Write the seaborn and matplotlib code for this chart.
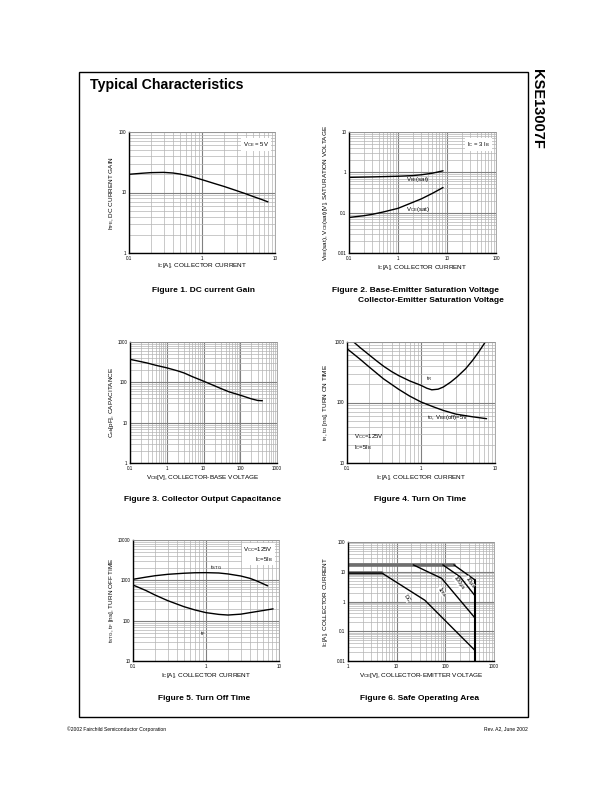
import matplotlib
matplotlib.use("Agg")
import matplotlib.pyplot as plt
import seaborn as sns
import numpy as np
from matplotlib.ticker import LogLocator, FixedLocator, FixedFormatter, NullFormatter

sns.set_style("white")
plt.rcParams['font.family'] = ['Liberation Sans', 'DejaVu Sans']
plt.rcParams['mathtext.fontset'] = 'custom'
plt.rcParams['mathtext.rm'] = 'Liberation Sans'
plt.rcParams['mathtext.it'] = 'Liberation Sans'
plt.rcParams['text.color'] = 'black'
plt.rcParams['xtick.color'] = 'black'
plt.rcParams['ytick.color'] = 'black'

# ---------------- data ----------------
# Fig 1: DC current gain
f1_ic = [0.1, 0.15, 0.2, 0.3, 0.4, 0.5, 0.7, 1.0, 1.5, 2.0, 3.0, 4.0, 5.0, 6.5, 8.0]
f1_hfe = [20.0, 20.8, 21.3, 21.5, 21.0, 20.2, 18.5, 16.3, 14.0, 12.6, 10.7, 9.5, 8.6, 7.7, 7.0]
# Fig 2: saturation voltages
f2_ic_be = [0.1, 0.3, 1.0, 2.0, 3.0, 5.0, 8.3]
f2_vbe = [0.75, 0.77, 0.80, 0.83, 0.87, 0.95, 1.09]
f2_ic_ce = [0.1, 0.2, 0.3, 0.5, 1.0, 2.0, 3.0, 5.0, 8.3]
f2_vce = [0.076, 0.084, 0.091, 0.104, 0.128, 0.18, 0.22, 0.30, 0.42]
# Fig 3: output capacitance
f3_vcb = [0.1, 0.2, 0.3, 0.5, 1.0, 2.0, 3.0, 5.0, 10.0, 20.0, 30.0, 50.0, 100.0, 200.0, 300.0, 400.0]
f3_cob = [372, 325, 300, 265, 229, 192, 170, 138, 107, 82, 70, 58, 48, 39, 35.5, 35]
# Fig 4: turn on time
f4_ic_tr = [0.123, 0.15, 0.2, 0.25, 0.31, 0.4, 0.5, 0.7, 1.0, 1.2, 1.4, 1.7, 2.0, 2.5, 3.06, 4.0, 5.0, 6.0, 7.4]
f4_tr = [1000, 810, 610, 490, 400, 325, 278, 228, 192, 172, 162, 166, 180, 216, 264, 360, 500, 680, 1000]
f4_ic_td = [0.1, 0.15, 0.2, 0.31, 0.5, 0.7, 1.0, 1.5, 2.0, 3.0, 5.0, 7.7]
f4_td = [776, 520, 385, 247, 165, 128, 102, 84, 74, 64, 58, 54]
# Fig 5: turn off time
f5_ic = [0.1, 0.15, 0.2, 0.3, 0.5, 0.7, 1.0, 1.5, 2.0, 3.0, 4.0, 5.0, 7.0]
f5_tstg = [1060, 1200, 1300, 1410, 1500, 1540, 1550, 1520, 1440, 1280, 1120, 960, 730]
f5_ic_tf = [0.1, 0.15, 0.2, 0.3, 0.5, 0.7, 1.0, 1.5, 2.0, 3.0, 4.0, 6.0, 8.3]
f5_tf = [766, 560, 433, 313, 222, 185, 158, 143, 138, 145, 158, 178, 196]
# Fig 6: safe operating area
f6_dc_v = [1, 5, 38, 414]
f6_dc_i = [9, 9, 1.1, 0.022]
f6_1ms_v = [22, 84, 414]
f6_1ms_i = [17, 6.0, 0.27]
f6_100us_v = [89, 200, 405]
f6_100us_i = [17, 6.8, 1.58]
f6_10us_v = [150, 405]
f6_10us_i = [17, 5.3]
f6_pulse_v = [1, 150]
f6_pulse_i = [17, 17]
f6_cont_v = [1, 5]
f6_cont_i = [9, 9]
f6_lim_v = [405, 405]
f6_lim_i = [0.01, 5.3]

W, H = 612, 792
fig = plt.figure(figsize=(W / 100, H / 100), dpi=100)
fig.patch.set_facecolor("white")

def add_ax(l, t, r, b):
    return fig.add_axes([l / W, 1 - b / H, (r - l) / W, (b - t) / H])

def fx(x):
    return x / W

def fy(y):
    return 1 - y / H

def setup(ax, xlim, ylim, xticks, xlabels, yticks, ylabels):
    ax.set_xscale("log")
    ax.set_yscale("log")
    ax.set_xlim(*xlim)
    ax.set_ylim(*ylim)
    ax.xaxis.set_major_locator(FixedLocator(xticks))
    ax.xaxis.set_major_formatter(FixedFormatter(xlabels))
    ax.yaxis.set_major_locator(FixedLocator(yticks))
    ax.yaxis.set_major_formatter(FixedFormatter(ylabels))
    ax.xaxis.set_minor_locator(LogLocator(base=10, subs=np.arange(2, 10)))
    ax.yaxis.set_minor_locator(LogLocator(base=10, subs=np.arange(2, 10)))
    ax.xaxis.set_minor_formatter(NullFormatter())
    ax.yaxis.set_minor_formatter(NullFormatter())
    ax.grid(True, which="major", color="#808080", lw=0.8)
    ax.grid(True, which="minor", color="#b4b4b4", lw=0.5)
    ax.tick_params(which="both", length=0, labelsize=3.3, pad=2)
    for s in ["left", "bottom"]:
        ax.spines[s].set_color("black")
        ax.spines[s].set_linewidth(1.0)
    for s in ["top", "right"]:
        ax.spines[s].set_color("#9a9a9a")
        ax.spines[s].set_linewidth(0.6)
    ax.set_xlabel("")
    ax.set_ylabel("")
    ax.set_axisbelow(True)

def curve(ax, x, y, lw=1.0, color="black"):
    sns.lineplot(x=x, y=y, ax=ax, color=color, lw=lw, sort=False, estimator=None)

lab_fs = 4.6
ann_fs = 4.3

# Fig 1
ax1 = add_ax(129, 132, 275, 253)
curve(ax1, f1_ic, f1_hfe)
setup(ax1, (0.1, 10), (1, 100), [0.1, 1, 10], ["0.1", "1", "10"], [1, 10, 100], ["1", "10", "100"])
ax1.text(0.96, 0.93, r"V$_{CE}$ = 5V", transform=ax1.transAxes, ha="right", va="top", fontsize=ann_fs,
         bbox=dict(fc="white", ec="none", pad=1.5))
fig.text(fx(112), fy(193), r"h$_{FE}$, DC CURRENT GAIN", rotation=90, ha="center", va="center", fontsize=lab_fs)
fig.text(fx(202), fy(266), r"I$_C$[A], COLLECTOR CURRENT", ha="center", va="center", fontsize=lab_fs)

# Fig 2
ax2 = add_ax(349, 132, 496, 253)
curve(ax2, f2_ic_be, f2_vbe)
curve(ax2, f2_ic_ce, f2_vce)
setup(ax2, (0.1, 100), (0.01, 10), [0.1, 1, 10, 100], ["0.1", "1", "10", "100"],
      [0.01, 0.1, 1, 10], ["0.01", "0.1", "1", "10"])
ax2.text(0.96, 0.93, r"I$_C$ = 3 I$_B$", transform=ax2.transAxes, ha="right", va="top", fontsize=ann_fs,
         bbox=dict(fc="white", ec="none", pad=1.5))
ax2.text(1.45, 0.66, r"V$_{BE}$(sat)", fontsize=ann_fs, ha="left", va="center")
ax2.text(1.45, 0.12, r"V$_{CE}$(sat)", fontsize=ann_fs, ha="left", va="center")
fig.text(fx(325), fy(193), r"V$_{BE}$(sat), V$_{CE}$(sat)[V], SATURATION VOLTAGE", rotation=90,
         ha="center", va="center", fontsize=lab_fs)
fig.text(fx(422), fy(268), r"I$_C$[A], COLLECTOR CURRENT", ha="center", va="center", fontsize=lab_fs)

# Fig 3
ax3 = add_ax(130, 342, 277, 463)
curve(ax3, f3_vcb, f3_cob)
setup(ax3, (0.1, 1000), (1, 1000), [0.1, 1, 10, 100, 1000], ["0.1", "1", "10", "100", "1000"],
      [1, 10, 100, 1000], ["1", "10", "100", "1000"])
fig.text(fx(112), fy(402), r"C$_{ob}$[pF], CAPACITANCE", rotation=90, ha="center", va="center", fontsize=lab_fs)
fig.text(fx(203), fy(477), r"V$_{CB}$[V], COLLECTOR-BASE VOLTAGE", ha="center", va="center", fontsize=lab_fs)

# Fig 4
ax4 = add_ax(347, 342, 495, 463)
curve(ax4, f4_ic_tr, f4_tr)
curve(ax4, f4_ic_td, f4_td)
setup(ax4, (0.1, 10), (10, 1000), [0.1, 1, 10], ["0.1", "1", "10"], [10, 100, 1000], ["10", "100", "1000"])
ax4.text(1.3, 251, r"t$_R$", fontsize=ann_fs, ha="center", va="center")
ax4.text(1.2, 56, r"t$_D$, V$_{BE}$(off)=5V", fontsize=ann_fs, ha="left", va="center")
ax4.text(0.125, 22, "V$_{CC}$=125V\nI$_C$=5I$_B$", fontsize=ann_fs, ha="left", va="center", linespacing=1.3)
fig.text(fx(326), fy(402), r"t$_R$, t$_D$ [ns], TURN ON TIME", rotation=90, ha="center", va="center", fontsize=lab_fs)
fig.text(fx(421), fy(477), r"I$_C$[A], COLLECTOR CURRENT", ha="center", va="center", fontsize=lab_fs)

# Fig 5
ax5 = add_ax(133, 540, 279, 661)
curve(ax5, f5_ic, f5_tstg)
curve(ax5, f5_ic_tf, f5_tf)
setup(ax5, (0.1, 10), (10, 10000), [0.1, 1, 10], ["0.1", "1", "10"],
      [10, 100, 1000, 10000], ["10", "100", "1000", "10000"])
ax5.text(1.13, 2050, r"t$_{STG}$", fontsize=ann_fs, ha="left", va="center")
ax5.text(0.83, 49, r"t$_F$", fontsize=ann_fs, ha="left", va="center")
ax5.text(0.96, 0.96, "V$_{CC}$=125V\nI$_C$=5I$_B$", transform=ax5.transAxes, fontsize=ann_fs,
         ha="right", va="top", linespacing=1.2, bbox=dict(fc="white", ec="none", pad=1.0))
fig.text(fx(112), fy(600), r"t$_{STG}$, t$_F$ [ns], TURN OFF TIME", rotation=90, ha="center", va="center", fontsize=lab_fs)
fig.text(fx(206), fy(676), r"I$_C$[A], COLLECTOR CURRENT", ha="center", va="center", fontsize=lab_fs)

# Fig 6
ax6 = add_ax(348, 542, 494, 661)
curve(ax6, f6_pulse_v, f6_pulse_i, lw=2.6, color="#6e6e6e")
curve(ax6, f6_cont_v, f6_cont_i, lw=2.6, color="#6e6e6e")
curve(ax6, f6_dc_v, f6_dc_i)
curve(ax6, f6_1ms_v, f6_1ms_i)
curve(ax6, f6_100us_v, f6_100us_i)
curve(ax6, f6_10us_v, f6_10us_i)
curve(ax6, f6_lim_v, f6_lim_i, lw=1.5)
setup(ax6, (1, 1000), (0.01, 100), [1, 10, 100, 1000], ["1", "10", "100", "1000"],
      [0.01, 0.1, 1, 10, 100], ["0.01", "0.1", "1", "10", "100"])
rot_kw = dict(fontsize=4.0, ha="center", va="center", rotation=-55,
              bbox=dict(fc="white", ec="none", pad=0.2))
ax6.text(16, 1.3, "DC", **rot_kw)
ax6.text(85, 2.1, "1ms", **rot_kw)
ax6.text(190, 4.2, "100μs", **rot_kw)
ax6.text(318, 4.5, "10μs", **rot_kw)
fig.text(fx(326), fy(602), r"I$_C$[A], COLLECTOR CURRENT", rotation=90, ha="center", va="center", fontsize=lab_fs)
fig.text(fx(421), fy(675), r"V$_{CE}$[V], COLLECTOR-EMITTER VOLTAGE", ha="center", va="center", fontsize=lab_fs)

# Captions
cap_fs = 6.0
fig.text(fx(203), fy(291), "Figure 1. DC current Gain", ha="center", va="center", fontsize=cap_fs, fontweight="bold")
fig.text(fx(416), fy(291), "Figure 2. Base-Emitter Saturation Voltage", ha="center", va="center",
         fontsize=cap_fs, fontweight="bold")
fig.text(fx(431), fy(301), "Collector-Emitter Saturation Voltage", ha="center", va="center",
         fontsize=cap_fs, fontweight="bold")
fig.text(fx(203), fy(500), "Figure 3. Collector Output Capacitance", ha="center", va="center",
         fontsize=cap_fs, fontweight="bold")
fig.text(fx(420), fy(500), "Figure 4. Turn On Time", ha="center", va="center", fontsize=cap_fs, fontweight="bold")
fig.text(fx(204), fy(698), "Figure 5. Turn Off Time", ha="center", va="center", fontsize=cap_fs, fontweight="bold")
fig.text(fx(420), fy(698), "Figure 6. Safe Operating Area", ha="center", va="center", fontsize=cap_fs, fontweight="bold")

# Frame, title, side label, footer
frame = plt.Rectangle((fx(79), fy(717)), (528 - 79) / W, (717 - 72) / H, transform=fig.transFigure,
                      fill=False, ec="black", lw=1.0)
fig.patches.append(frame)
fig.text(fx(90), fy(85), "Typical Characteristics", ha="left", va="center", fontsize=10.2, fontweight="bold")
fig.text(fx(537), fy(69), "KSE13007F", ha="center", va="top", rotation=-90, fontsize=10.5, fontweight="bold")
fig.text(fx(67), fy(729), "©2002 Fairchild Semiconductor Corporation", ha="left", va="center", fontsize=3.6)
fig.text(fx(528), fy(729), "Rev. A2, June 2002", ha="right", va="center", fontsize=3.6)

fig.savefig("out.png", dpi=100, facecolor="white")
